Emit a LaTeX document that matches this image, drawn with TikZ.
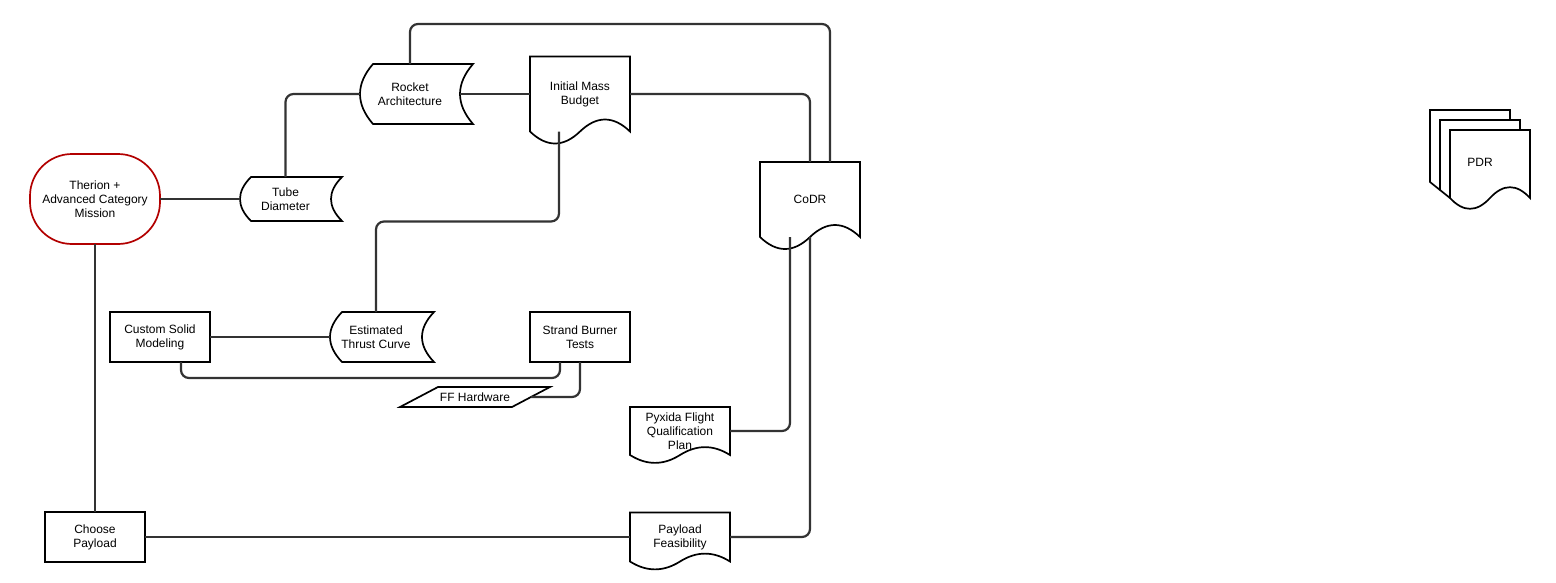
\documentclass[tikz,border=0pt]{standalone}
\usepackage{fontspec}
\setmainfont{Liberation Sans}
\usetikzlibrary{calc}

\definecolor{termred}{RGB}{178,0,0}
\definecolor{linegray}{RGB}{51,51,51}

% outline of a document sheet drawn round a plain node (#2 = wave height)
\newcommand{\docshape}[2]{%
  \draw[outline] (#1.south west) -- (#1.north west) -- (#1.north east) -- (#1.south east)
    .. controls ($(#1.south east)!1/6!(#1.south west)+(0,-#2)$) and ($(#1.south east)!1/3!(#1.south west)+(0,-#2)$) .. (#1.south)
    .. controls ($(#1.south)!1/3!(#1.south west)+(0,#2)$) and ($(#1.south)!2/3!(#1.south west)+(0,#2)$) .. (#1.south west) -- cycle;}
% outline of a stored-data shape (#2 = curve depth)
\newcommand{\storeshape}[2]{%
  \draw[outline] ($(#1.north west)+(#2,0)$) -- ($(#1.north east)+(#2,0)$)
    .. controls ($(#1.north east)!1/3!(#1.south east)+(-#2/3,0)$) and ($(#1.north east)!2/3!(#1.south east)+(-#2/3,0)$) .. ($(#1.south east)+(#2,0)$)
    -- ($(#1.south west)+(#2,0)$)
    .. controls ($(#1.north west)!2/3!(#1.south west)+(-#2/3,0)$) and ($(#1.north west)!1/3!(#1.south west)+(-#2/3,0)$) .. ($(#1.north west)+(#2,0)$) -- cycle;}

\begin{document}
\begin{tikzpicture}[x=1pt, y=-1pt]
    \tikzstyle{txt} = [font=\fontsize{12}{14}\selectfont, align=center,
    inner sep=0pt, outer sep=0pt]
    \tikzstyle{outline} = [draw=black, line width=1.7pt]
    \tikzstyle{process} = [txt, draw, line width=1.7pt, minimum width=100pt,
    minimum height=50pt]
    \tikzstyle{terminal} = [process, draw=termred, minimum width=130pt,
    minimum height=90pt, rounded corners=42pt]
    \tikzstyle{docbox} = [txt, minimum width=100pt]
    \tikzstyle{storebox} = [txt]
    \tikzstyle{link} = [draw=linegray, line width=2.2pt, rounded corners=8pt]
    \useasboundingbox (0,0) rectangle (1556,582);

    \node [terminal] (ther) at (95,199) {Therion +\\Advanced Category\\Mission};
    \node [storebox, minimum width=91pt, minimum height=44pt] (tube) at (285.5,199) {Tube\\Diameter};
    \node [storebox, minimum width=100pt, minimum height=60pt] (rock) at (410,94) {Rocket\\Architecture};
    \node [docbox, minimum height=75pt] (imb) at (580,94) {Initial Mass\\Budget};
    \node [docbox, minimum height=75pt] (codr) at (810,199.5) {CoDR};
    \node [process] (csm) at (160,337) {Custom Solid\\Modeling};
    \node [storebox, minimum width=92pt, minimum height=50pt] (est) at (376,337) {Estimated\\Thrust Curve};
    \node [process] (sbt) at (580,337) {Strand Burner\\Tests};
    \node [txt, minimum width=112pt, minimum height=20pt] (ff) at (475,397) {FF Hardware};
    \node [docbox, minimum height=48pt] (pyx) at (680,431) {Pyxida Flight\\Qualification\\Plan};
    \node [process] (cp) at (95,537) {Choose\\Payload};
    \node [docbox, minimum height=49pt] (pf) at (680,537) {Payload\\Feasibility};
    \node [docbox, minimum width=80pt, minimum height=68pt] (pdr) at (1490,164) {\raisebox{4pt}{PDR}\hspace{20pt}};

    \storeshape{tube}{11}
    \storeshape{rock}{13}
    \storeshape{est}{12}
    \docshape{imb}{16}
    \docshape{codr}{16}
    \docshape{pyx}{10.5}
    \docshape{pf}{10.5}
    \docshape{pdr}{14.4}
    % sheets behind the PDR
    \draw[outline] (pdr.south west) -- +(-10,-8) -- ($(pdr.north west)+(-10,-10)$)
        -- ($(pdr.north east)+(-10,-10)$) -- ($(pdr.north east)+(-10,0)$);
    \draw[outline] ($(pdr.south west)+(-10,-8)$) -- +(-10,-8) -- ($(pdr.north west)+(-20,-20)$)
        -- ($(pdr.north east)+(-20,-20)$) -- ($(pdr.north east)+(-20,-10)$);
    \draw[outline] ($(ff.north west)+(19,0)$) -- ($(ff.north east)+(19,0)$)
        -- ($(ff.south east)+(-19,0)$) -- ($(ff.south west)+(-19,0)$) -- cycle;

    \draw[link] (ther.east) -- (tube.west);
    \draw[link] (tube.north) |- (rock.west);
    \draw[link] (rock.east) -- (imb.west);
    \draw[link] (imb.east) -| (codr.north);
    \draw[link] (rock.north) -- ++(0,-40) -| ([xshift=20pt]codr.north);
    \draw[link] ([xshift=-21pt]imb.south) -- ++(0,90) -| (est.north);
    \draw[link] (csm.east) -- (est.west);
    \draw[link] ([xshift=21pt]csm.south) -- ++(0,16) -| ([xshift=-20pt]sbt.south);
    \draw[link] (sbt.south) |- (ff.east);
    \draw[link] ([xshift=-20pt]codr.south) |- (pyx.east);
    \draw[link] (codr.south) |- (pf.east);
    \draw[link] (ther.south) -- (cp.north);
    \draw[link] (cp.east) -- (pf.west);
\end{tikzpicture}
\end{document}
